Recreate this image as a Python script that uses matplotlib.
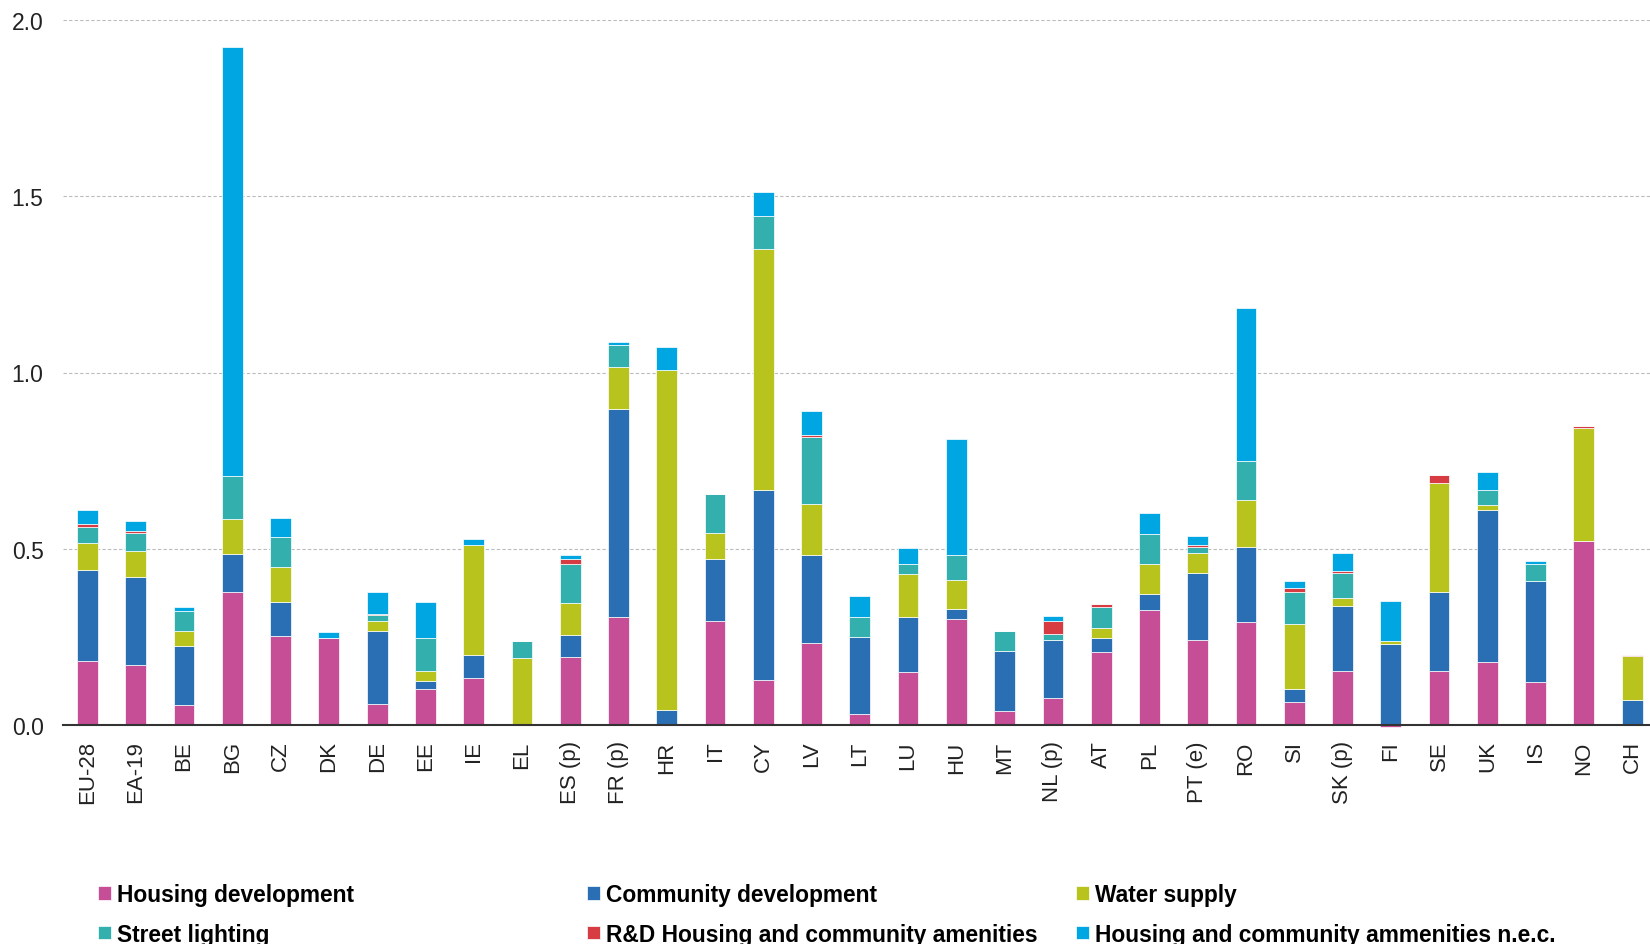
import matplotlib
matplotlib.use("Agg")
import matplotlib.pyplot as plt
import numpy as np

categories = ["EU-28", "EA-19", "BE", "BG", "CZ", "DK", "DE", "EE", "IE", "EL",
              "ES (p)", "FR (p)", "HR", "IT", "CY", "LV", "LT", "LU", "HU", "MT",
              "NL (p)", "AT", "PL", "PT (e)", "RO", "SI", "SK (p)", "FI", "SE", "UK",
              "IS", "NO", "CH"]

housing = [0.181, 0.169, 0.056, 0.377, 0.252, 0.248, 0.059, 0.101, 0.134, 0.0,
           0.194, 0.307, 0.0, 0.294, 0.129, 0.234, 0.030, 0.150, 0.302, 0.041,
           0.077, 0.206, 0.327, 0.242, 0.291, 0.065, 0.153, -0.006, 0.153, 0.178,
           0.121, 0.521, 0.0]
community = [0.260, 0.252, 0.168, 0.109, 0.097, 0.0, 0.209, 0.024, 0.066, 0.0,
             0.060, 0.589, 0.042, 0.177, 0.539, 0.248, 0.220, 0.157, 0.028, 0.169,
             0.164, 0.041, 0.045, 0.189, 0.214, 0.036, 0.186, 0.230, 0.223, 0.431,
             0.287, 0.0, 0.070]
water = [0.076, 0.072, 0.044, 0.099, 0.100, 0.0, 0.028, 0.028, 0.312, 0.189,
         0.091, 0.120, 0.965, 0.075, 0.681, 0.146, 0.0, 0.120, 0.081, 0.0,
         0.0, 0.028, 0.084, 0.057, 0.132, 0.186, 0.020, 0.009, 0.310, 0.016,
         0.0, 0.322, 0.125]
street = [0.046, 0.051, 0.055, 0.121, 0.085, 0.0, 0.016, 0.095, 0.0, 0.048,
          0.113, 0.061, 0.0, 0.109, 0.094, 0.190, 0.057, 0.031, 0.071, 0.056,
          0.016, 0.060, 0.085, 0.017, 0.113, 0.089, 0.072, 0.0, 0.0, 0.041,
          0.049, 0.0, 0.0]
rnd = [0.008, 0.006, 0.0, 0.0, 0.0, 0.0, 0.004, 0.0, 0.0, 0.0,
       0.012, 0.0, 0.0, 0.0, 0.0, 0.006, 0.0, 0.0, 0.0, 0.0,
       0.037, 0.008, 0.0, 0.005, 0.0, 0.012, 0.005, 0.0, 0.024, 0.0,
       0.0, 0.005, 0.004]
nec = [0.040, 0.028, 0.013, 1.216, 0.054, 0.016, 0.061, 0.101, 0.017, 0.0,
       0.012, 0.010, 0.066, 0.0, 0.070, 0.067, 0.059, 0.044, 0.329, 0.0,
       0.016, 0.0, 0.060, 0.027, 0.432, 0.020, 0.053, 0.112, 0.0, 0.052,
       0.007, 0.0, 0.0]

series_names = ["Housing development", "Community development", "Water supply",
                "Street lighting", "R&D Housing and community amenities",
                "Housing and community ammenities n.e.c."]
series_values = [housing, community, water, street, rnd, nec]
colors = ["#C64E96", "#2A6EB3", "#B9C31E", "#33B0AE", "#D63C41", "#00A6E2"]
ytick_vals = [0.0, 0.5, 1.0, 1.5, 2.0]
ytick_labels = ["0.0", "0.5", "1.0", "1.5", "2.0"]

plt.rcParams['font.family'] = ['Liberation Sans', 'DejaVu Sans']

fig = plt.figure(figsize=(16.5, 9.45), dpi=100)
ax = fig.add_axes([63 / 1650, 1 - 726 / 945, 1587 / 1650, 705 / 945])

x = np.arange(len(categories))
pos_base = np.zeros(len(categories))
neg_base = np.zeros(len(categories))
handles = []
for name, vals, col in zip(series_names, series_values, colors):
    v = np.array(vals, dtype=float)
    bottoms = np.where(v >= 0, pos_base, neg_base)
    h = ax.bar(x, v, bottom=bottoms, width=0.43, color=col, edgecolor="white",
               linewidth=0.5, label=name, zorder=3, clip_on=False)
    handles.append(h)
    pos_base = pos_base + np.where(v > 0, v, 0)
    neg_base = neg_base + np.where(v < 0, v, 0)

ax.set_ylim(0, 2.0)
ax.set_xlim(-0.508, 32.37)
ax.set_yticks(ytick_vals)
ax.set_yticklabels(ytick_labels, fontsize=16.5, color="#222222")
ax.set_xticks(x)
ax.set_xticklabels(categories, rotation=90, fontsize=16, color="#222222")
ax.tick_params(axis="y", length=0, pad=14)
ax.tick_params(axis="x", length=0, pad=11)
for s in ["top", "right", "left"]:
    ax.spines[s].set_visible(False)
ax.spines["bottom"].set_color("#333333")
ax.spines["bottom"].set_linewidth(1.5)
ax.spines["bottom"].set_zorder(4)
ax.yaxis.grid(True, linestyle=(0, (3, 2)), color="#BBBBBB", linewidth=0.8, zorder=0)
ax.set_axisbelow(True)

# legend laid out row-wise: three columns, two rows
col_x = [98, 587, 1076]
for c in range(3):
    hs = [handles[c], handles[c + 3]]
    ls = [series_names[c], series_names[c + 3]]
    fig.legend(hs, ls, loc="upper left", bbox_to_anchor=(col_x[c] / 1650, 1 - 884 / 945),
               ncol=1, frameon=False, handlelength=0.57, handleheight=0.55,
               handletextpad=0.28, labelspacing=0.73, borderpad=0, borderaxespad=0,
               prop={"weight": "bold", "size": 16.4})

fig.savefig("out.png", dpi=100)
